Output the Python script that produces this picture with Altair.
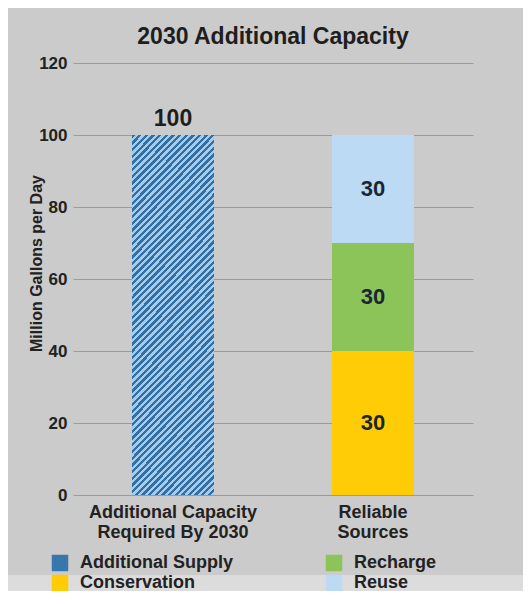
import altair as alt
import pandas as pd

# ---- data ----
categories = ["Additional Capacity Required By 2030", "Reliable Sources", "Reliable Sources", "Reliable Sources"]
sources = ["Additional Supply", "Conservation", "Recharge", "Reuse"]
values = [100, 40, 30, 30]
value_labels = ["100", "30", "30", "30"]
category_order = ["Additional Capacity Required By 2030", "Reliable Sources"]
category_lines = {
    "Additional Capacity Required By 2030": ["Additional Capacity", "Required By 2030"],
    "Reliable Sources": ["Reliable", "Sources"],
}
legend_order = ["Additional Supply", "Recharge", "Conservation", "Reuse"]
legend_colors = ["#3877ae", "#8cc45a", "#ffcc05", "#bcdaf4"]
y_ticks = [0, 20, 40, 60, 80, 100, 120]

# stacked extents derived from values
rows = []
running = {}
for c, s, v, lab in zip(categories, sources, values, value_labels):
    start = running.get(c, 0)
    end = start + v
    running[c] = end
    rows.append({"category": c, "source": s, "start": start, "end": end,
                 "mid": (start + end) / 2, "label": lab})
df = pd.DataFrame(rows)

FONT = "Liberation Sans"
W, H = 400, 432
PAD = {"left": 65, "top": 55, "right": 50, "bottom": 96}

# hatch fill (diagonal stripes) built as a hard-stop linear gradient
dark, light = "#316fa6", "#a4cdec"
n_stripes = 66
stops = []
for i in range(n_stripes):
    t0, tm, t1 = i / n_stripes, (i + 0.5) / n_stripes, (i + 1) / n_stripes
    stops += [{"offset": t0, "color": dark}, {"offset": tm, "color": dark},
              {"offset": tm, "color": light}, {"offset": t1, "color": light}]
hatch_fill = {"gradient": "linear", "x1": 0, "y1": 0, "x2": 0.269, "y2": 1.168, "stops": stops}

label_expr = " : ".join(
    [f"datum.value == '{k}' ? {v!r}" for k, v in category_lines.items()]
) + " : datum.value"

x_enc = alt.X("category:N", sort=category_order, scale=alt.Scale(domain=category_order),
              axis=alt.Axis(title=None, labelAngle=0, labelFont=FONT, labelFontSize=18,
                            labelFontWeight="bold", labelColor="#222222", labelPadding=8,
                            labelLineHeight=20, ticks=False, domain=False, labelExpr=label_expr))
y_scale = alt.Scale(domain=[0, 120], nice=False)
y_enc = alt.Y("start:Q", scale=y_scale,
              axis=alt.Axis(title="Million Gallons per Day", values=y_ticks, labelFont=FONT,
                            labelFontSize=17, labelFontWeight="bold", labelColor="#222222",
                            labelPadding=6, ticks=False, domain=False, grid=True,
                            gridColor="#9a9a9a", gridWidth=1, titleFont=FONT, titleFontSize=16,
                            titleFontWeight="bold", titleColor="#222222", titleX=-37, titleY=200,
                            titleBaseline="middle", titleAlign="center"))

base = alt.Chart(df)

strip = alt.Chart(pd.DataFrame({"k": [0]})).mark_rect(color="#dcdcdc").encode(
    x=alt.value(-PAD["left"]), x2=alt.value(W + PAD["right"]),
    y=alt.value(512), y2=alt.value(H + PAD["bottom"])
)

bars = base.mark_bar(size=82).encode(
    x=x_enc, y=y_enc, y2="end:Q",
    color=alt.Color("source:N", scale=alt.Scale(domain=legend_order, range=legend_colors),
                    legend=alt.Legend(title=None, orient="none", legendX=-22, legendY=491,
                                      values=legend_order,
                                      columns=2, direction="horizontal", symbolType="square",
                                      symbolSize=272, symbolStrokeWidth=0, symbolOpacity=1,
                                      labelFont=FONT, labelFontSize=18, labelFontWeight="bold",
                                      labelColor="#222222", labelOffset=11, rowPadding=2,
                                      columnPadding=92)),
)

hatch = base.transform_filter(alt.datum.source == "Additional Supply").mark_bar(
    size=82, fill=hatch_fill
).encode(x=alt.X("category:N", sort=category_order), y=alt.Y("start:Q", scale=y_scale), y2="end:Q")

top_label = base.transform_filter(alt.datum.source == "Additional Supply").mark_text(
    font=FONT, fontSize=23, fontWeight="bold", color="#1e1e1e", baseline="bottom", dy=-4
).encode(x=alt.X("category:N", sort=category_order), y=alt.Y("end:Q", scale=y_scale), text="label:N")

seg_labels = base.transform_filter(alt.datum.source != "Additional Supply").mark_text(
    font=FONT, fontSize=22, fontWeight="bold", color="#1b2535", baseline="middle"
).encode(x=alt.X("category:N", sort=category_order), y=alt.Y("mid:Q", scale=y_scale), text="label:N")

chart = alt.layer(strip, bars, hatch, top_label, seg_labels).properties(
    width=W, height=H,
    title=alt.TitleParams("2030 Additional Capacity", font=FONT, fontSize=23, fontWeight="bold",
                          color="#1e1e1e", anchor="middle", offset=5),
    autosize=alt.AutoSizeParams(type="none"),
    padding=PAD,
).configure(background="#cbcbcb").configure_view(stroke=None)

chart.save("out.html", embed_options={"renderer": "svg", "actions": False})
